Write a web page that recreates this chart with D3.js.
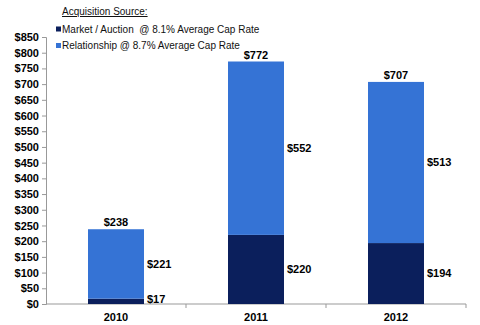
<!DOCTYPE html>
<html lang="en">
<head>
  <meta charset="UTF-8">
  <title>Acquisition Source</title>
  <script src="https://d3js.org/d3.v7.min.js"></script>
  <style>
    body { margin: 0; background: #fff; font-family: Arial, "Liberation Sans", sans-serif; }
    svg { display: block; }
    .tick text { font-size: 11px; font-weight: bold; fill: #000; }
    .lbl { font-size: 11px; font-weight: bold; fill: #000; }
    .legend text { font-size: 10px; fill: #111; }
  </style>
</head>
<body>
  <svg width="480" height="325"></svg>

  <script>
    // Acquisitions by year, split by source ($ millions)
    const years = ["2010", "2011", "2012"];
    const market = [17, 220, 194];
    const relationship = [221, 552, 513];
    const totals = [238, 772, 707];
    const yTicks = [0, 50, 100, 150, 200, 250, 300, 350, 400, 450, 500, 550, 600, 650, 700, 750, 800, 850];

    const seriesNames = ["Market / Auction  @ 8.1% Average Cap Rate", "Relationship @ 8.7% Average Cap Rate"];
    const colors = ["#0b1f5c", "#3573d5"];

    const svg = d3.select("svg");
    const plotL = 46, plotR = 466, plotT = 37, plotB = 304;

    const x = d3.scaleBand()
      .domain(years)
      .range([plotL, plotR])
      .paddingInner(0.6)
      .paddingOuter(0.3);

    const xCat = d3.scaleBand().domain(years).range([plotL, plotR]);

    const y = d3.scaleLinear().domain([0, 850]).range([plotB, plotT]);

    const rows = years.map((yr, i) => ({ year: yr, market: market[i], relationship: relationship[i] }));
    const stacked = d3.stack().keys(["market", "relationship"])(rows);

    // y axis
    const yAxis = svg.append("g")
      .attr("transform", `translate(${plotL},0)`)
      .call(d3.axisLeft(y).tickValues(yTicks).tickSize(4).tickPadding(3).tickFormat(d => "$" + d));
    yAxis.selectAll("line, path").attr("stroke", "#999");

    // x axis with ticks between categories
    const xAxis = svg.append("g").attr("transform", `translate(0,${plotB})`);
    xAxis.append("line")
      .attr("x1", plotL).attr("x2", plotR)
      .attr("stroke", "#999");
    xAxis.selectAll(".sep")
      .data(years)
      .join("line")
        .attr("class", "sep")
        .attr("x1", d => xCat(d) + xCat.bandwidth())
        .attr("x2", d => xCat(d) + xCat.bandwidth())
        .attr("y1", 0).attr("y2", 4)
        .attr("stroke", "#999");
    xAxis.selectAll(".yr")
      .data(years)
      .join("text")
        .attr("class", "lbl yr")
        .attr("x", d => xCat(d) + xCat.bandwidth() / 2)
        .attr("y", 17)
        .attr("text-anchor", "middle")
        .text(d => d);

    // bars
    svg.append("g")
      .selectAll("g")
      .data(stacked)
      .join("g")
        .attr("fill", (d, i) => colors[i])
      .selectAll("rect")
      .data(d => d)
      .join("rect")
        .attr("x", d => x(d.data.year))
        .attr("width", x.bandwidth())
        .attr("y", d => y(d[1]))
        .attr("height", d => y(d[0]) - y(d[1]));

    // segment labels to the right of each bar
    svg.append("g")
      .selectAll("g")
      .data(stacked)
      .join("g")
      .selectAll("text")
      .data(d => d)
      .join("text")
        .attr("class", "lbl")
        .attr("x", d => x(d.data.year) + x.bandwidth() + 3)
        .attr("y", d => Math.min(y((d[0] + d[1]) / 2), plotB - 5))
        .attr("dy", "0.35em")
        .text(d => "$" + (d[1] - d[0]));

    // totals above bars
    svg.append("g")
      .selectAll("text")
      .data(years)
      .join("text")
        .attr("class", "lbl")
        .attr("x", d => x(d) + x.bandwidth() / 2)
        .attr("y", (d, i) => y(totals[i]) - 3)
        .attr("text-anchor", "middle")
        .text((d, i) => "$" + totals[i]);

    // legend
    const legend = svg.append("g").attr("class", "legend");
    legend.append("text")
      .attr("x", 62).attr("y", 15)
      .attr("text-decoration", "underline")
      .text("Acquisition Source:");
    const item = legend.selectAll(".item")
      .data(seriesNames)
      .join("g")
        .attr("class", "item")
        .attr("transform", (d, i) => `translate(56,${29 + i * 16.5})`);
    item.append("rect")
      .attr("x", 0).attr("y", -2.5)
      .attr("width", 5).attr("height", 5)
      .attr("fill", (d, i) => colors[i]);
    item.append("text")
      .attr("x", 6).attr("y", 0)
      .attr("dy", "0.35em")
      .style("white-space", "pre")
      .text(d => d);
  </script>
</body>
</html>
